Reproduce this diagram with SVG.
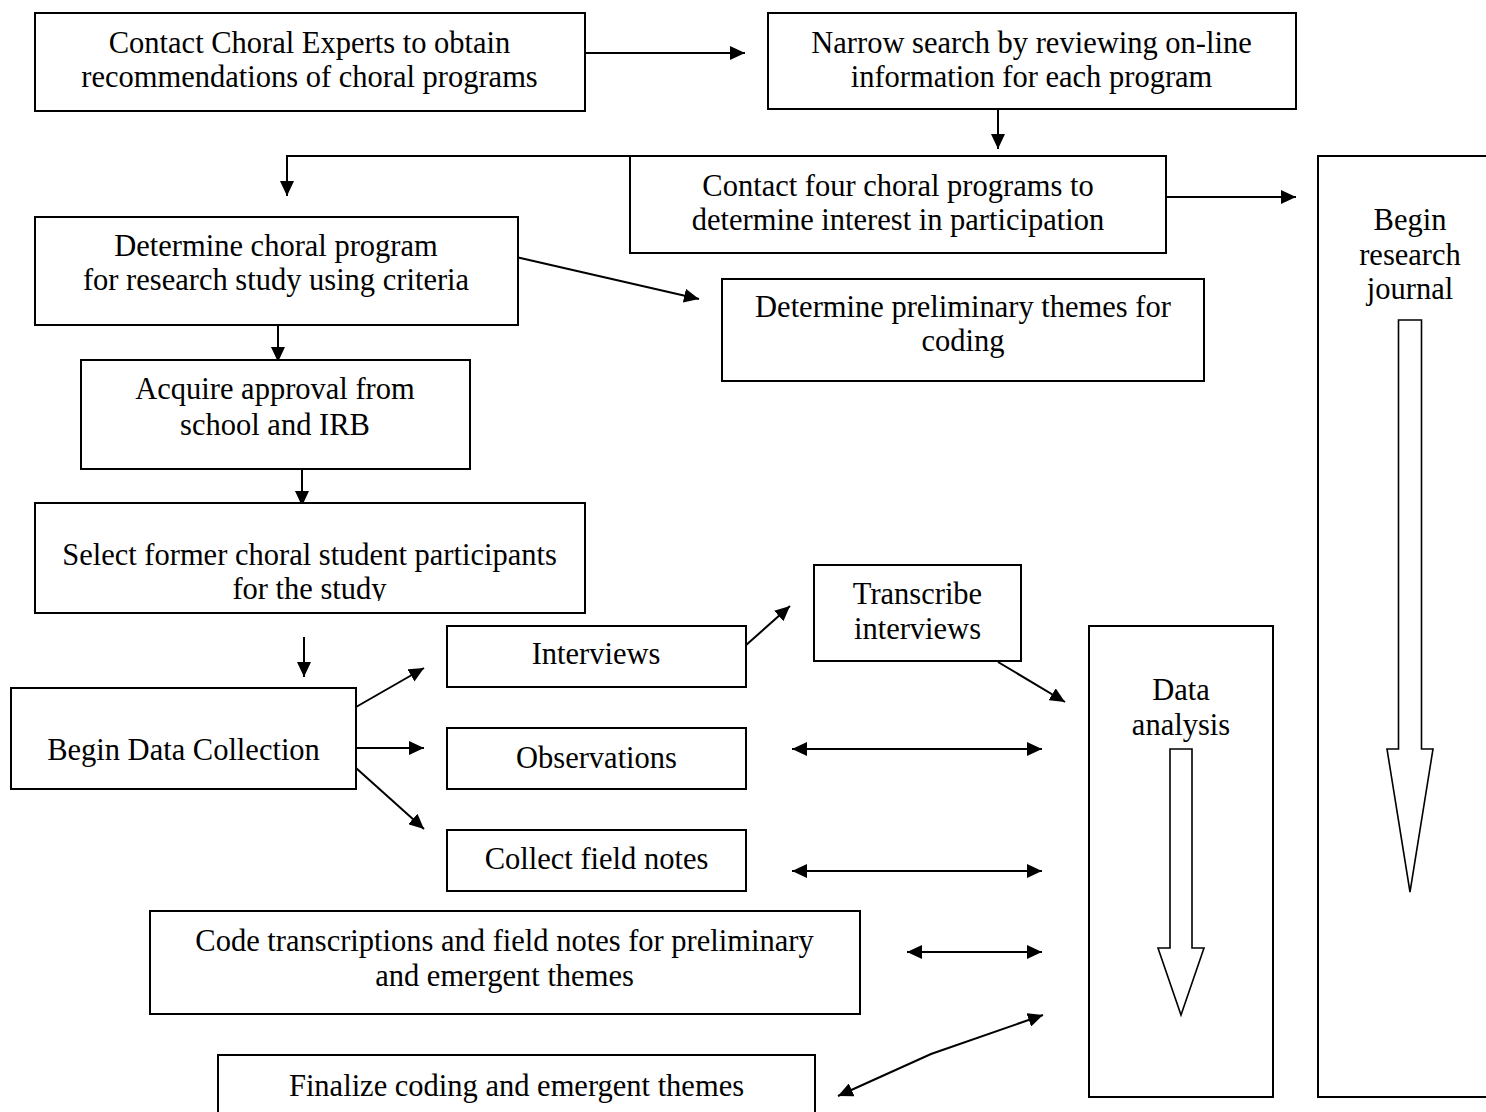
<svg xmlns="http://www.w3.org/2000/svg" width="1486" height="1112" viewBox="0 0 1486 1112">
<style>
  .box { fill: #fff; stroke: #000; stroke-width: 2; }
  .hollow { fill: #fff; stroke: #000; stroke-width: 1.6; }
  .t { font-family: "Liberation Serif", "Times New Roman", serif; font-size: 30.5px; fill: #000; text-anchor: middle; }
  .c { fill: none; stroke: #000; stroke-width: 2; }
  .a { marker-end: url(#ah); }
  .d { marker-start: url(#ah); marker-end: url(#ah); }
</style>
<defs>
  <marker id="ah" markerUnits="userSpaceOnUse" markerWidth="15" markerHeight="14" refX="15" refY="7" orient="auto-start-reverse">
    <path d="M0,0 L15,7 L0,14 z" fill="#000"/>
  </marker>
  <clipPath id="clipH"><rect x="35" y="503" width="550" height="98"/></clipPath>
</defs>
<rect width="1486" height="1112" fill="#fff"/>

<g id="connectors">
  <line class="c a" x1="585" y1="53" x2="745" y2="53"/>
  <line class="c a" x1="998" y1="109" x2="998" y2="149"/>
  <polyline class="c a" points="630,156 287,156 287,196"/>
  <line class="c a" x1="1158" y1="197" x2="1296" y2="197"/>
  <line class="c a" x1="516" y1="257" x2="699" y2="299"/>
  <line class="c a" x1="278" y1="325" x2="278" y2="362"/>
  <line class="c a" x1="302" y1="469" x2="302" y2="506"/>
  <line class="c a" x1="304" y1="637" x2="304" y2="677"/>
  <line class="c a" x1="356" y1="707" x2="424" y2="668"/>
  <line class="c a" x1="356" y1="748" x2="424" y2="748"/>
  <line class="c a" x1="356" y1="768" x2="424" y2="829"/>
  <line class="c a" x1="745" y1="646" x2="790" y2="606"/>
  <line class="c a" x1="998" y1="662" x2="1065" y2="702"/>
  <line class="c d" x1="792" y1="749" x2="1042" y2="749"/>
  <line class="c d" x1="792" y1="871" x2="1042" y2="871"/>
  <line class="c d" x1="907" y1="952" x2="1042" y2="952"/>
  <polyline class="c d" points="838,1096 931,1054 1043,1015"/>
</g>

<g id="n-contact-experts">
  <rect class="box" x="35" y="13" width="550" height="98"/>
  <text class="t" x="309.5" y="53">Contact Choral Experts to obtain</text>
  <text class="t" x="309.5" y="87">recommendations of choral programs</text>
</g>
<g id="n-narrow-search">
  <rect class="box" x="768" y="13" width="528" height="96"/>
  <text class="t" x="1031.5" y="53">Narrow search by reviewing on-line</text>
  <text class="t" x="1031.5" y="87">information for each program</text>
</g>
<g id="n-contact-four">
  <rect class="box" x="630" y="156" width="536" height="97"/>
  <text class="t" x="898" y="196">Contact four choral programs to</text>
  <text class="t" x="898" y="230">determine interest in participation</text>
</g>
<g id="n-research-journal">
  <rect class="box" x="1318" y="156" width="200" height="941"/>
  <text class="t" x="1410" y="230">Begin</text>
  <text class="t" x="1410" y="265">research</text>
  <text class="t" x="1410" y="299">journal</text>
  <polygon class="hollow" points="1398.5,320 1421.5,320 1421.5,749 1433,749 1410,892 1387,749 1398.5,749"/>
</g>
<g id="n-determine-program">
  <rect class="box" x="35" y="217" width="483" height="108"/>
  <text class="t" x="276" y="256">Determine choral program</text>
  <text class="t" x="276" y="290">for research study using criteria</text>
</g>
<g id="n-preliminary-themes">
  <rect class="box" x="722" y="279" width="482" height="102"/>
  <text class="t" x="963" y="317">Determine preliminary themes for</text>
  <text class="t" x="963" y="351">coding</text>
</g>
<g id="n-approval">
  <rect class="box" x="81" y="360" width="389" height="109"/>
  <text class="t" x="275" y="399">Acquire approval from</text>
  <text class="t" x="275" y="435">school and IRB</text>
</g>
<g id="n-select-participants">
  <rect class="box" x="35" y="503" width="550" height="110"/>
  <text class="t" x="309.5" y="565">Select former choral student participants</text>
  <text class="t" x="309.5" y="599" clip-path="url(#clipH)">for the study</text>
</g>
<g id="n-data-collection">
  <rect class="box" x="11" y="688" width="345" height="101"/>
  <text class="t" x="183.5" y="760">Begin Data Collection</text>
</g>
<g id="n-interviews">
  <rect class="box" x="447" y="626" width="299" height="61"/>
  <text class="t" x="596" y="664">Interviews</text>
</g>
<g id="n-observations">
  <rect class="box" x="447" y="728" width="299" height="61"/>
  <text class="t" x="596.5" y="768">Observations</text>
</g>
<g id="n-field-notes">
  <rect class="box" x="447" y="830" width="299" height="61"/>
  <text class="t" x="596.5" y="869">Collect field notes</text>
</g>
<g id="n-transcribe">
  <rect class="box" x="814" y="565" width="207" height="96"/>
  <text class="t" x="917.5" y="604">Transcribe</text>
  <text class="t" x="917.5" y="639">interviews</text>
</g>
<g id="n-data-analysis">
  <rect class="box" x="1089" y="626" width="184" height="471"/>
  <text class="t" x="1181" y="700">Data</text>
  <text class="t" x="1181" y="735">analysis</text>
  <polygon class="hollow" points="1170,749 1192,749 1192,948 1204,948 1181,1015 1158,948 1170,948"/>
</g>
<g id="n-code">
  <rect class="box" x="150" y="911" width="710" height="103"/>
  <text class="t" x="504.5" y="951">Code transcriptions and field notes for preliminary</text>
  <text class="t" x="504.5" y="986">and emergent themes</text>
</g>
<g id="n-finalize">
  <rect class="box" x="218" y="1055" width="597" height="70"/>
  <text class="t" x="516.5" y="1096">Finalize coding and emergent themes</text>
</g>
</svg>
